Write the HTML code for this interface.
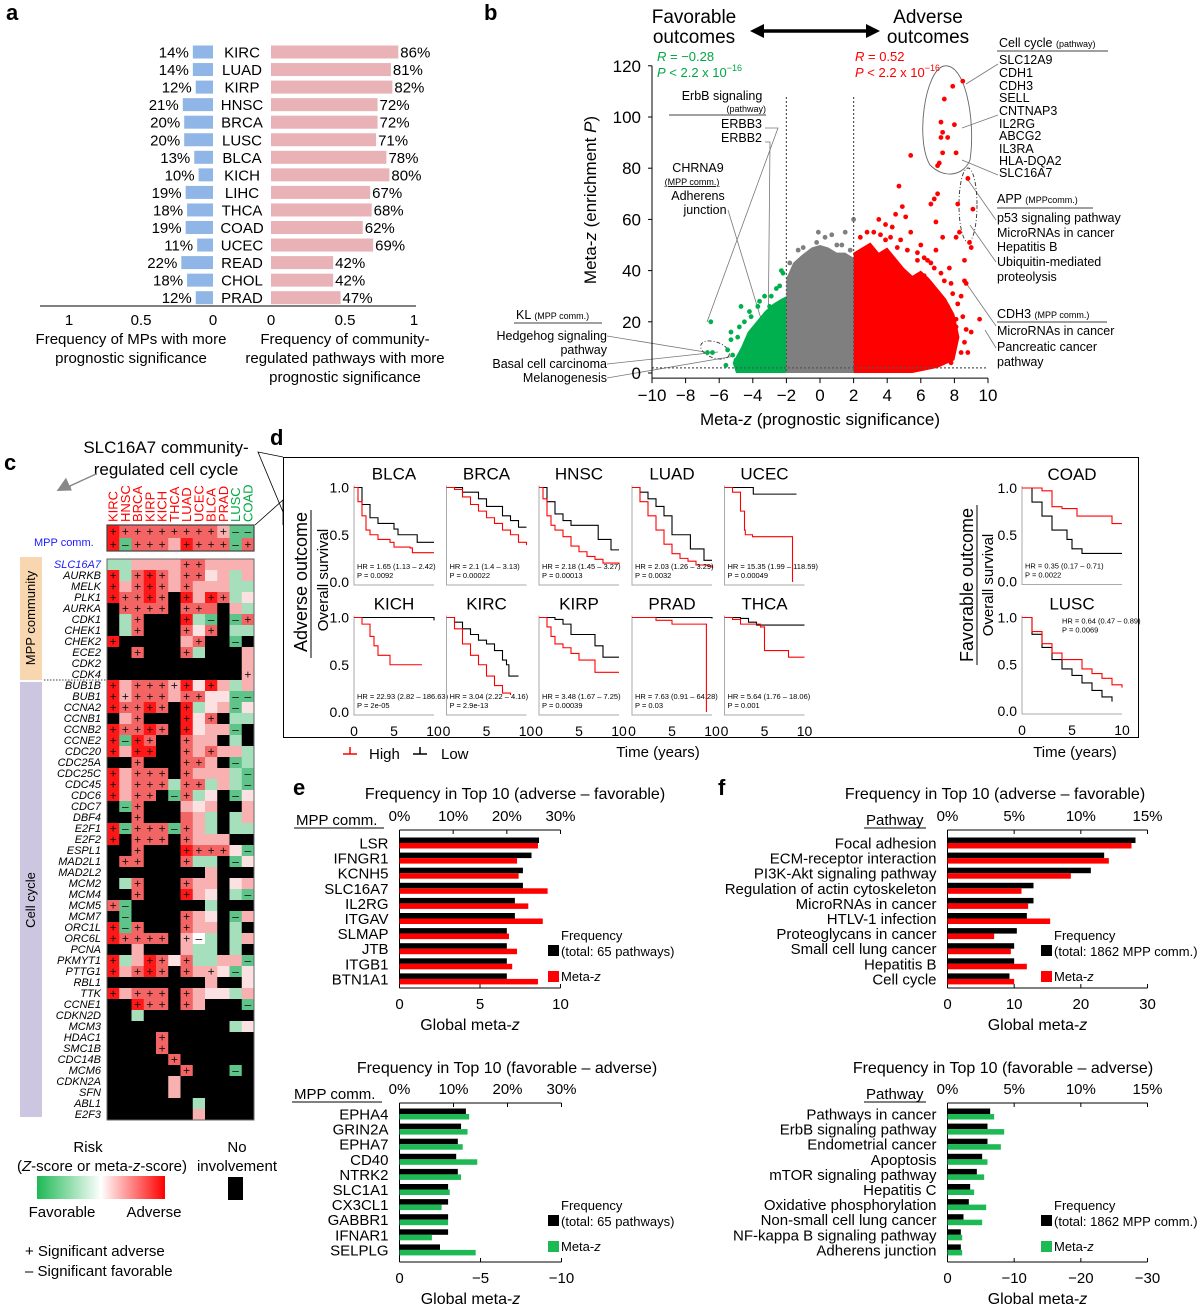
<!DOCTYPE html>
<html><head><meta charset="utf-8">
<style>
html,body{margin:0;padding:0;background:#fff;}
svg{display:block;font-family:"Liberation Sans",Arial,sans-serif;}
.pl{font-weight:bold;font-size:22px;}
</style></head>
<body>
<svg id="fig" width="1200" height="1306" viewBox="0 0 1200 1306">
<text class="pl" x="6" y="20">a</text>
<text class="pl" x="484" y="20">b</text>
<text class="pl" x="4" y="470">c</text>
<text class="pl" x="270" y="445">d</text>
<text class="pl" x="293" y="795">e</text>
<text class="pl" x="718" y="795">f</text>

<g id="pa" font-size="15">
  <line x1="40" y1="306" x2="416" y2="306" stroke="#000" stroke-width="1"/>
  <g text-anchor="middle">
    <text x="69" y="325">1</text><text x="141" y="325">0.5</text><text x="213" y="325">0</text>
    <text x="271" y="325">0</text><text x="345" y="325">0.5</text><text x="414" y="325">1</text>
  </g>
  <g text-anchor="middle">
    <text x="131" y="344">Frequency of MPs with more</text>
    <text x="131" y="363">prognostic significance</text>
  </g>
  <g text-anchor="middle">
    <text x="345" y="344">Frequency of community-</text>
    <text x="345" y="363">regulated pathways with more</text>
    <text x="345" y="382">prognostic significance</text>
  </g>
</g>

<g id="pb">
  <g font-size="19" text-anchor="middle">
    <text x="694" y="23">Favorable</text><text x="694" y="43">outcomes</text>
    <text x="928" y="23">Adverse</text><text x="928" y="43">outcomes</text>
  </g>
  <line x1="760" y1="31" x2="870" y2="31" stroke="#000" stroke-width="3.5"/>
  <polygon points="750,31 764,24 764,38" fill="#000"/>
  <polygon points="880,31 866,24 866,38" fill="#000"/>
  <g font-size="13" fill="#00a843">
    <text x="657" y="61"><tspan font-style="italic">R</tspan> = −0.28</text>
    <text x="657" y="77"><tspan font-style="italic">P</tspan> &lt; 2.2 x 10<tspan font-size="9" dy="-6">−16</tspan></text>
  </g>
  <g font-size="13" fill="#f00">
    <text x="855" y="61"><tspan font-style="italic">R</tspan> = 0.52</text>
    <text x="855" y="77"><tspan font-style="italic">P</tspan> &lt; 2.2 x 10<tspan font-size="9" dy="-6">−16</tspan></text>
  </g>
  <text transform="translate(596,200) rotate(-90)" text-anchor="middle" font-size="17">Meta-<tspan font-style="italic">z</tspan> (enrichment <tspan font-style="italic">P</tspan>)</text>
  <text x="820" y="425" text-anchor="middle" font-size="17">Meta-<tspan font-style="italic">z</tspan> (prognostic significance)</text>
  <g font-size="12.5">
    <text x="999" y="47">Cell cycle <tspan font-size="9">(pathway)</tspan></text>
    <line x1="997" y1="51" x2="1108" y2="51" stroke="#000" stroke-width="0.8"/>
    <text x="999" y="64">SLC12A9</text><text x="999" y="77">CDH1</text><text x="999" y="90">CDH3</text>
    <text x="999" y="102">SELL</text><text x="999" y="115">CNTNAP3</text><text x="999" y="128">IL2RG</text>
    <text x="999" y="140">ABCG2</text><text x="999" y="153">IL3RA</text><text x="999" y="165">HLA-DQA2</text>
    <text x="999" y="177">SLC16A7</text>
  </g>
  <g font-size="12.5">
    <text x="997" y="203">APP <tspan font-size="9">(MPPcomm.)</tspan></text>
    <line x1="997" y1="208" x2="1093" y2="208" stroke="#000" stroke-width="0.8"/>
    <text x="997" y="222">p53 signaling pathway</text><text x="997" y="237">MicroRNAs in cancer</text>
    <text x="997" y="251">Hepatitis B</text><text x="997" y="266">Ubiquitin-mediated</text><text x="997" y="281">proteolysis</text>
  </g>
  <g font-size="12.5">
    <text x="997" y="318">CDH3 <tspan font-size="9">(MPP comm.)</tspan></text>
    <line x1="997" y1="322" x2="1107" y2="322" stroke="#000" stroke-width="0.8"/>
    <text x="997" y="335">MicroRNAs in cancer</text><text x="997" y="351">Pancreatic cancer</text><text x="997" y="366">pathway</text>
  </g>
  <g font-size="12.5">
    <text x="722" y="100" text-anchor="middle">ErbB signaling</text>
    <text x="766" y="112" text-anchor="end" font-size="9">(pathway)</text>
    <line x1="669" y1="115" x2="766" y2="115" stroke="#000" stroke-width="0.8"/>
    <text x="762" y="128" text-anchor="end">ERBB3</text><text x="762" y="142" text-anchor="end">ERBB2</text>
  </g>
  <g font-size="12.5" text-anchor="middle">
    <text x="698" y="172">CHRNA9</text>
    <text x="692" y="185" font-size="9" text-decoration="underline">(MPP comm.)</text>
    <text x="698" y="200">Adherens</text><text x="705" y="214">junction</text>
  </g>
  <g font-size="12.5" text-anchor="end">
    <text x="516" y="319" text-anchor="start">KL <tspan font-size="9">(MPP comm.)</tspan></text>
    <line x1="514" y1="323" x2="602" y2="323" stroke="#000" stroke-width="0.8"/>
    <text x="607" y="340">Hedgehog signaling</text><text x="607" y="354">pathway</text>
    <text x="607" y="368">Basal cell carcinoma</text><text x="607" y="382">Melanogenesis</text>
  </g>
  <g fill="none" stroke="#777" stroke-width="0.8">
    <polyline points="765,128 778,128 707,322"/>
    <polyline points="765,142 770,142 768,350"/>
    <polyline points="728,210 772,355"/>
    <polyline points="607,336 705,352"/>
    <polyline points="607,364 718,352"/>
    <polyline points="607,378 735,356"/>
    <polyline points="998,64 966,84"/>
    <polyline points="998,115 962,128"/>
    <polyline points="998,175 962,160"/>
    <polyline points="996,220 968,180"/>
    <polyline points="996,262 970,225"/>
    <polyline points="996,326 966,283"/>
    <polyline points="996,348 985,330"/>
  </g>
  <path d="M944,66 C965,62 976,120 970,160 C964,175 945,180 930,165 C915,140 925,70 944,66 Z" fill="none" stroke="#666" stroke-width="0.9"/>
  <ellipse cx="968" cy="205" rx="9" ry="37" fill="none" stroke="#333" stroke-width="0.9" stroke-dasharray="4,2,1,2"/>
  <ellipse cx="715" cy="350" rx="15" ry="8" transform="rotate(20 715 350)" fill="none" stroke="#333" stroke-width="0.9" stroke-dasharray="4,2,1,2"/>
</g>

<g id="pc">
  <g font-size="17" text-anchor="middle">
    <text x="166" y="453">SLC16A7 community-</text>
    <text x="166" y="475">regulated cell cycle</text>
  </g>
  <polyline points="70,490 70,486 96,474" fill="none" stroke="#888" stroke-width="1.5"/>
  <polygon points="56,488 70,480 70,494" fill="#888" transform="rotate(-25 63 488)"/>
  <text x="34" y="546" font-size="11" fill="#1a1aff">MPP comm.</text>
  <rect x="20" y="557" width="22" height="123" fill="#f8d6b0"/>
  <rect x="20" y="682" width="22" height="435" fill="#cdc6e0"/>
  <text transform="translate(35,618) rotate(-90)" text-anchor="middle" font-size="13">MPP community</text>
  <text transform="translate(35,900) rotate(-90)" text-anchor="middle" font-size="13">Cell cycle</text>
  <line x1="44" y1="680" x2="107" y2="680" stroke="#000" stroke-width="0.8" stroke-dasharray="1.5,1.5"/>
  <g font-size="15" text-anchor="middle">
    <text x="88" y="1152">Risk</text>
    <text x="102" y="1171">(<tspan font-style="italic">Z</tspan>-score or meta-<tspan font-style="italic">z</tspan>-score)</text>
    <text x="62" y="1217">Favorable</text>
    <text x="154" y="1217">Adverse</text>
    <text x="237" y="1152">No</text>
    <text x="237" y="1171">involvement</text>
  </g>
  <defs><linearGradient id="rg" x1="0" x2="1" y1="0" y2="0">
    <stop offset="0" stop-color="#1db954"/><stop offset="0.5" stop-color="#ffffff"/><stop offset="1" stop-color="#ff0000"/>
  </linearGradient></defs>
  <rect x="37" y="1176" width="128" height="23" fill="url(#rg)"/>
  <rect x="228" y="1177" width="15" height="23" fill="#000"/>
  <g font-size="15">
    <text x="25" y="1256">+ Significant adverse</text>
    <text x="25" y="1276">– Significant favorable</text>
  </g>
</g>

<g id="pd">
  <rect x="283.5" y="457.5" width="855" height="280" fill="none" stroke="#000" stroke-width="1"/>
  <polyline points="283,457 258,452 283,512" fill="none" stroke="#000" stroke-width="0.8"/>
  <polyline points="255,525 283,500 283,525" fill="none" stroke="#000" stroke-width="0.8"/>
  <text transform="translate(307,582) rotate(-90)" text-anchor="middle" font-size="18">Adverse outcome</text>
  <line x1="311" y1="510" x2="311" y2="658" stroke="#000" stroke-width="1"/>
  <text transform="translate(328,580) rotate(-90)" text-anchor="middle" font-size="15">Overall survival</text>
  <text transform="translate(973,585) rotate(-90)" text-anchor="middle" font-size="18">Favorable outcome</text>
  <line x1="977" y1="505" x2="977" y2="665" stroke="#000" stroke-width="1"/>
  <text transform="translate(993,585) rotate(-90)" text-anchor="middle" font-size="15">Overall survival</text>
  <text x="658" y="757" text-anchor="middle" font-size="15">Time (years)</text>
  <text x="1075" y="757" text-anchor="middle" font-size="15">Time (years)</text>
  <g font-size="15">
    <line x1="343" y1="754" x2="357" y2="754" stroke="#f00" stroke-width="1.5"/>
    <line x1="350" y1="747" x2="350" y2="754" stroke="#f00" stroke-width="1.5"/>
    <text x="369" y="759">High</text>
    <line x1="413" y1="754" x2="427" y2="754" stroke="#000" stroke-width="1.5"/>
    <line x1="420" y1="747" x2="420" y2="754" stroke="#000" stroke-width="1.5"/>
    <text x="441" y="759">Low</text>
  </g>
</g>

<g font-size="16" text-anchor="middle">
  <text x="515" y="799">Frequency in Top 10 (adverse – favorable)</text>
  <text x="507" y="1073">Frequency in Top 10 (favorable – adverse)</text>
  <text x="995" y="799">Frequency in Top 10 (adverse – favorable)</text>
  <text x="1003" y="1073">Frequency in Top 10 (favorable – adverse)</text>
</g>
<g font-size="15">
  <text x="296" y="825">MPP comm.</text><line x1="294" y1="828" x2="384" y2="828" stroke="#000" stroke-width="0.9"/>
  <text x="294" y="1099">MPP comm.</text><line x1="292" y1="1102" x2="382" y2="1102" stroke="#000" stroke-width="0.9"/>
  <text x="866" y="825">Pathway</text><line x1="864" y1="828" x2="926" y2="828" stroke="#000" stroke-width="0.9"/>
  <text x="866" y="1099">Pathway</text><line x1="864" y1="1102" x2="926" y2="1102" stroke="#000" stroke-width="0.9"/>
</g>
<g id="dyn"></g>
</svg>

<script>
const aCancers = ["KIRC","LUAD","KIRP","HNSC","BRCA","LUSC","BLCA","KICH","LIHC","THCA","COAD","UCEC","READ","CHOL","PRAD"];
const aMP = [14,14,12,21,20,20,13,10,19,18,19,11,22,18,12];
const aComm = [86,81,82,72,72,71,78,80,67,68,62,69,42,42,47];

const bGreenCloud = [[-2,0],[-5,0],[-5.2,4],[-4.7,10],[-4.3,16],[-3.8,20],[-3.3,24],[-2.8,27],[-2.3,29],[-2,30]];
const bGreyCloud = [[-2,0],[-2,37],[-1.6,43],[-1.1,46],[-0.5,49],[0,50],[0.5,49],[1,47],[1.5,47],[2,45],[2,0]];
const bRedCloud = [[2,0],[2,47],[2.5,49],[3,51],[3.5,47],[4,49],[4.5,45],[5,41],[5.5,38],[6,40],[6.5,37],[7,33],[7.5,29],[8,23],[8.3,14],[8,5],[7,2],[5.5,0]];
const bRedPts = [[8.5,114],[7.9,112],[7.4,107],[7.2,98],[8,97],[7.3,94],[7.6,92],[7.2,92],[7.3,86],[8.1,86],[7.1,82],[7,81],[5.4,85],[8.8,76],[4.7,73],[7,70],[6.8,68],[8.2,66],[6.6,66],[4.9,65],[9.1,64],[4.5,62],[5.1,61],[3.5,60],[3.9,58],[4.3,57],[8.3,55],[6.9,59],[5.4,55],[7.3,53],[8.1,53],[8.9,51],[9,49],[6,50],[6.9,48],[8.6,44],[7.7,41],[8.6,36],[8.7,35],[9.5,21],[8.1,21],[9,16],[7.5,17],[8.1,18],[6.2,45],[5.8,47],[4.8,52],[3.2,55],[6.6,43],[7.2,39],[7.8,35],[8.4,30],[7.6,26],[8.8,8],[7.4,10],[6.8,6],[2.4,53],[2.8,55],[3.6,54],[4.2,53],[5.2,48],[6.4,44],[6.8,41],[7.4,36],[7.9,31],[8.2,27],[8.5,22],[8.7,17],[8.6,12],[8.4,8],[7.8,4],[5.8,44],[4.6,49],[3.9,52],[7.1,29],[6.2,38]];
const bGreenPts = [[-6.5,20],[-6.7,8],[-6.4,8],[-5.2,7],[-5.3,13],[-5.3,16],[-4.8,18],[-4.5,20],[-4.7,26],[-4.2,24],[-3.6,28],[-2.3,40],[-2.2,39],[-3,26],[-5.0,5],[-2.6,33],[-3.3,30],[-4.9,14],[-5.5,9],[-4.1,22],[-3.7,26],[-2.9,30],[-2.4,34],[-5.6,3]];
const bGreyPts = [[-0.1,55],[0.7,54],[1.5,55],[2,60],[-0.2,51],[1.0,50],[-1.3,48],[0.3,53],[-1.8,43],[-1.0,49],[1.3,50],[1.8,48]];
const bXTicks = [-10,-8,-6,-4,-2,0,2,4,6,8,10];
const bYTicks = [0,20,40,60,80,100,120];

const cCols = ["KIRC","HNSC","BRCA","KIRP","KICH","THCA","LUAD","UCEC","BLCA","PRAD","LUSC","COAD"];
const cMPP = ["R+ r+ r+ r+ r+ r+ r+ r+ r+ p+ G- G-","R+ G- r+ r+ r+ p R+ r+ r+ r+ G- r+"];
const cGenes = ["SLC16A7","AURKB","MELK","PLK1","AURKA","CDK1","CHEK1","CHEK2","ECE2","CDK2","CDK4","BUB1B","BUB1","CCNA2","CCNB1","CCNB2","CCNE2","CDC20","CDC25A","CDC25C","CDC45","CDC6","CDC7","DBF4","E2F1","E2F2","ESPL1","MAD2L1","MAD2L2","MCM2","MCM4","MCM5","MCM7","ORC1L","ORC6L","PCNA","PKMYT1","PTTG1","RBL1","TTK","CCNE1","CDKN2D","MCM3","HDAC1","SMC1B","CDC14B","MCM6","CDKN2A","SFN","ABL1","E2F3"];
const cCells = [
"g g p p p p r+ r+ p p p p",
"R+ g r+ R+ r+ p r+ r+ w p g p",
"R+ p r+ R+ r+ p r+ p p p g g",
"R+ r+ r+ R+ r+ k R+ p R+ r+ g w",
"k r+ r+ r+ r+ k r+ r+ r k p g",
"k g r+ k k k R+ g G- k G- r+",
"k g r+ k k k r+ w r+ k g g",
"R+ k k k k k p r+ k k G- k",
"k k r+ k k k r+ g k k k p",
"k k k k k k k k k k k p",
"k k k k k k k k k k k p+",
"R+ p r+ r+ r+ p+ R+ w R+ p g p",
"R+ p+ r+ r+ r+ p r+ r+ w w G- G-",
"R+ r+ r+ R+ r+ k R+ g w p G- w",
"k p r+ k k k R+ w r+ k g g",
"R+ r+ r+ R+ r+ k R+ w p p G- k",
"R+ G- R+ r+ k k r+ p p k g k",
"R+ p R+ R+ k k r+ p r+ p p g",
"k k r+ k k k r+ r+ p k G- g",
"R+ p r+ r+ r+ k r+ p p p g G-",
"R+ p r+ r+ r+ g r+ r+ g p g G-",
"R+ p r+ r+ k G- r+ g w k G- w",
"k G- r+ k k k p w p k k p",
"k k r+ k k k r p g k g p",
"R+ G- r+ r+ r+ G- r+ p g k g g",
"R+ k r+ r+ r+ k r+ p p p k k",
"k k r+ k k k R+ r+ r+ r+ w G-",
"k r+ r+ k k k r+ g g k G- w",
"k k k k k k k k p k k k",
"k g r+ k k k r+ p p k w p",
"k k r+ k k k R+ p w k g G-",
"r+ G- k k k k k k g k k k",
"k G- k k k k r+ p w k G- p",
"R+ G- r+ k k k r+ p p k g k",
"R+ r+ r+ r+ r+ k p+ W- g k g p",
"k k p k k k p g g k g k",
"R+ g p R+ r+ w r+ g g p p G-",
"R+ p r+ R+ r+ k r+ p p+ w G- w",
"k k k k k k k k p k k w",
"R+ p r+ r+ r+ k r+ p w w g p",
"k k R+ r+ r+ k r+ p k k k G-",
"k k g k k k k k k k k k",
"k k k k k k k k k k g w",
"k k k k r+ k k k k k k k",
"k k k k r+ k k k k k k k",
"k k k k k r+ k k k k k k",
"k k k k k k r+ k k k G- k",
"k k k k k p k k k k k k",
"k k k k k p k k k k k k",
"k k k k k k k g k k k k",
"k k k k k k k p k k k k"];

const dNames = ["BLCA","BRCA","HNSC","LUAD","UCEC","KICH","KIRC","KIRP","PRAD","THCA","COAD","LUSC"];
const dHR = ["HR = 1.65 (1.13 – 2.42)","HR = 2.1 (1.4 – 3.13)","HR = 2.18 (1.45 – 3.27)","HR = 2.03 (1.26 – 3.29)","HR = 15.35 (1.99 – 118.59)","HR = 22.93 (2.82 – 186.63)","HR = 3.04 (2.22 – 4.16)","HR = 3.48 (1.67 – 7.25)","HR = 7.63 (0.91 – 64.28)","HR = 5.64 (1.76 – 18.06)","HR = 0.35 (0.17 – 0.71)","HR = 0.64 (0.47 – 0.89)"];
const dP = ["P = 0.0092","P = 0.00022","P = 0.00013","P = 0.0032","P = 0.00049","P = 2e-05","P = 2.9e-13","P = 0.00039","P = 0.03","P = 0.001","P = 0.0022","P = 0.0069"];
const dHigh = [
[[0,1],[0.5,.85],[1,.7],[1.5,.55],[2,.5],[3,.45],[4.5,.42],[5,.37],[7,.36],[7.3,.31],[10,.31]],
[[0,1],[1,.98],[2,.9],[3,.82],[4,.75],[5,.68],[6,.62],[7,.55],[8,.5],[9,.42],[10,.39]],
[[0,1],[0.5,.88],[1,.7],[1.5,.6],[2,.55],[3,.48],[4,.38],[5,.32],[6,.27],[7,.24],[8,.2],[10,.19]],
[[0,1],[1,.85],[2,.7],[3,.55],[4,.4],[5,.3],[6,.25],[7,.22],[8,.18],[9.5,.17],[10,.15]],
[[0,1],[1,.95],[2,.75],[2.5,.55],[2.6,.5],[3.5,.48],[8.5,.48],[8.5,0]],
[[0,1],[1,.93],[2,.8],[2.5,.7],[3,.6],[4.5,.5],[8.5,.5]],
[[0,1],[1,.88],[2,.72],[3,.6],[4,.5],[5,.38],[6,.28],[7,.2],[8,.18]],
[[0,1],[1,.9],[1.5,.8],[2,.72],[3,.68],[4,.62],[5,.55],[7,.42],[10,.42]],
[[0,1],[3,.97],[5,.93],[9.3,.93],[9.3,0]],
[[0,1],[1,.98],[2,.93],[4.5,.9],[5,.65],[8,.58],[10,.58]],
[[0,1],[2,.97],[3,.8],[4,.78],[5.5,.7],[9,.62],[10,.62]],
[[0,1],[1,.85],[2,.72],[3,.62],[4,.55],[6,.45],[7,.4],[8,.35],[9,.28],[10,.25]]];
const dLow = [
[[0,1],[1,.82],[2,.68],[3,.62],[5,.56],[5.5,.5],[7.9,.42],[10,.42]],
[[0,1],[2,.95],[4,.88],[5,.8],[7,.7],[8,.65],[9,.58],[10,.58]],
[[0,1],[1,.85],[2,.72],[3,.65],[4,.6],[7.4,.45],[9,.34],[10,.34]],
[[0,1],[1,.95],[2,.88],[3,.8],[4,.7],[5,.5],[7.3,.35],[9,.23],[10,.23]],
[[0,1],[3.6,.93],[9,.93]],
[[0,1],[10,.97]],
[[0,1],[1,.95],[2,.88],[3,.82],[4,.76],[5,.72],[6,.65],[7,.55],[7.5,.5],[7.8,.38],[9,.38]],
[[0,1],[2,.98],[3,.93],[4,.82],[7,.7],[8,.58],[10,.58]],
[[0,1],[10,.99]],
[[0,1],[2,.99],[3,.95],[4,.92],[10,.92]],
[[0,1],[1,.85],[2,.7],[3,.55],[4.5,.45],[5,.35],[6,.3],[10,.3]],
[[0,1],[1,.82],[2,.68],[3,.55],[4,.45],[5,.38],[6,.3],[7,.22],[8,.15],[9,.1]]];
const dYTicks = ["0.0","0.5","1.0"];
const dXTicks = [0,5,10];

const eTopNames = ["LSR","IFNGR1","KCNH5","SLC16A7","IL2RG","ITGAV","SLMAP","JTB","ITGB1","BTN1A1"];
const eTopFreq = [26,24.6,23,23,21.5,21.5,20,20,20,20];
const eTopZ = [8.6,7.3,7.4,9.2,8.0,8.9,6.8,7.3,7.0,8.6];
const eBotNames = ["EPHA4","GRIN2A","EPHA7","CD40","NTRK2","SLC1A1","CX3CL1","GABBR1","IFNAR1","SELPLG"];
const eBotFreq = [12.3,11.4,10.8,10.5,10.8,9,9,9,9,7.5];
const eBotZ = [-4.3,-4.2,-3.9,-4.8,-3.8,-3.1,-2.6,-3.0,-2.0,-4.7];
const fTopNames = ["Focal adhesion","ECM-receptor interaction","PI3K-Akt signaling pathway","Regulation of actin cytoskeleton","MicroRNAs in cancer","HTLV-1 infection","Proteoglycans in cancer","Small cell lung cancer","Hepatitis B","Cell cycle"];
const fTopFreq = [14.1,11.75,10.75,6.45,6.45,5.95,5.2,5,5,4.65];
const fTopZ = [27.6,24.2,18.5,11.1,12.1,15.4,7,9.5,11.9,10];
const fBotNames = ["Pathways in cancer","ErbB signaling pathway","Endometrial cancer","Apoptosis","mTOR signaling pathway","Hepatitis C","Oxidative phosphorylation","Non-small cell lung cancer","NF-kappa B signaling pathway","Adherens junction"];
const fBotFreq = [3.2,3.0,3.0,2.6,2.2,1.7,1.6,1.2,1.0,1.0];
const fBotZ = [-7,-8.5,-8,-6,-5.5,-4,-5.8,-5.2,-2.2,-2.2];

const NS = "http://www.w3.org/2000/svg";
const root = document.getElementById("dyn");
function el(tag, attrs, parent, txt) {
  const e = document.createElementNS(NS, tag);
  for (const k in attrs) e.setAttribute(k, attrs[k]);
  if (txt !== undefined) e.textContent = txt;
  (parent || root).appendChild(e);
  return e;
}

(function(){
  const g = el("g", {"font-size":"15"});
  
  
  const blueX = v => 213 - v/100*144;
  const pinkW = v => v/100*148;
  aCancers.forEach((c,i) => {
    const y = 52 + i*17.55;
    const b = el("rect", {x: blueX(aMP[i]), y: y-6.5, width: 213-blueX(aMP[i]), height: 13, fill:"#8fb6e6"}, g);
    
    
    const t1 = el("text", {x: blueX(aMP[i])-4, y: y+5.5, "text-anchor":"end"}, g, aMP[i] + "%");
    
    
    const lab = el("text", {x: 242, y: y+5.5, "text-anchor":"middle"}, g, c);
    
    
    const p = el("rect", {x: 271, y: y-6.5, width: pinkW(aComm[i]), height: 13, fill:"#e8b2b6"}, g);
    
    
    const t2 = el("text", {x: 271+pinkW(aComm[i])+2, y: y+5.5}, g, aComm[i] + "%");
    
    
  });
})();

(function(){
  const bx = v => 820 + v*16.8;
  const by = v => 373 - v*2.56;
  const g = el("g", {});
  
  
  const poly = (pts, col, name) => {
    const p = el("polygon", {points: pts.map(q => bx(q[0])+","+by(q[1])).join(" "), fill: col}, g);
    
    
  };
  poly(bGreyCloud, "#7f7f7f", "grey-point-cloud");
  poly(bGreenCloud, "#00b04f", "green-point-cloud");
  poly(bRedCloud, "#ff0000", "red-point-cloud");
  const dots = (arr, col, name) => arr.forEach(q => {
    const c = el("circle", {cx: bx(q[0]), cy: by(q[1]), r: 2.4, fill: col}, g);
    
    
  });
  dots(bGreyPts, "#7f7f7f", "grey-point");
  dots(bGreenPts, "#00b04f", "green-point");
  dots(bRedPts, "#ff0000", "red-point");
  [-2,2].forEach(v => {
    const l = el("line", {x1: bx(v), x2: bx(v), y1: 97, y2: 373, stroke:"#555", "stroke-dasharray":"2,2", "stroke-width":1.2}, g);
    
    
  });
  const hl = el("line", {x1: bx(-10), x2: bx(10), y1: by(2), y2: by(2), stroke:"#555", "stroke-dasharray":"2,2", "stroke-width":1.2}, g);
  
  
  const ax = el("path", {d: `M${bx(-10)},${by(120)} L${bx(-10)},${by(-2)} L${bx(10)},${by(-2)}`, fill:"none", stroke:"#000", "stroke-width":1}, g);
  
  
  bXTicks.forEach(v => {
    el("line", {x1: bx(v), x2: bx(v), y1: by(-2), y2: by(-2)+5, stroke:"#000"}, g);
    const t = el("text", {x: bx(v), y: 401, "text-anchor":"middle", "font-size":"17"}, g, v < 0 ? "−" + Math.abs(v) : String(v));
    
    
  });
  bYTicks.forEach(v => {
    el("line", {x1: bx(-10)-4, x2: bx(-10), y1: by(v), y2: by(v), stroke:"#000"}, g);
    const t = el("text", {x: 641, y: by(v)+6, "text-anchor":"end", "font-size":"17"}, g, String(v));
    
    
  });
})();

(function(){
  const colors = {R:"#ff1616", r:"#f36464", p:"#f8b0b0", w:"#fbe1e1", g:"#a6dfbb", G:"#5ec48a", k:"#000000", W:"#ffffff"};
  const x0 = 107, cw = 12.25, y0 = 559, rh = 11.0;
  const g = el("g", {});
  
  
  const cell = (tok, x, y, h, name) => {
    const r = el("rect", {x: x, y: y, width: cw+0.3, height: h+0.3, fill: colors[tok[0]]}, g);
    
    
    if (tok.length > 1) {
      const t = el("text", {x: x+cw/2, y: y+h/2+4, "text-anchor":"middle", "font-size":"12", fill:"#111"}, g, tok[1]==="+" ? "+" : "–");
      
      
    }
  };
  cCols.forEach((c,j) => {
    const t = el("text", {transform: `translate(${x0+cw*(j+0.5)+4.5},522) rotate(-90)`, "font-size":"13", fill: j>=10 ? "#00a843" : "#f00"}, g, c);
    
    
  });
  cMPP.forEach((row,i) => {
    row.split(" ").forEach((tok,j) => cell(tok, x0+cw*j, 525+i*13, 13, "mpp-cell"));
  });
  const fr = el("rect", {x: x0, y: 525, width: cw*12, height: 26, fill:"none", stroke:"#444", "stroke-width":1.2}, g);
  
  
  cCells.forEach((row,i) => {
    row.split(" ").forEach((tok,j) => cell(tok, x0+cw*j, y0+rh*i, rh, "heatmap-cell"));
    const t = el("text", {x: 101, y: y0+rh*i+9, "text-anchor":"end", "font-size":"11", "font-style":"italic", fill: i===0 ? "#1a1aff" : "#000"}, g, cGenes[i]);
    
    
  });
  const f2 = el("rect", {x: x0, y: y0, width: cw*12, height: rh*cCells.length, fill:"none", stroke:"#666", "stroke-width":1}, g);
  
  
})();

(function(){
  const colX = [354, 446.5, 539, 632, 724.5];
  const rowTop = [487.5, 617.5];
  const H = 94.5, W = 80;
  dNames.forEach((name,k) => {
    let px, pt, w = W, h = H;
    if (k < 10) { px = colX[k%5]; pt = rowTop[Math.floor(k/5)]; }
    else { px = 1022; pt = k===10 ? 488 : 617.5; w = 100; h = 93.5; }
    const sx = t => px + t/10*w;
    const sy = s => pt + (1-s)*h;
    const g = el("g", {});
    
    
    const tt = el("text", {x: px+w/2, y: pt-8, "text-anchor":"middle", "font-size":"17"}, g, name);
    
    
    el("path", {d:`M${px},${pt-2} L${px},${pt+h+3} L${px+w},${pt+h+3}`, fill:"none", stroke:"#aaa", "stroke-width":1}, g);
    const step = pts => {
      let d = `M${sx(pts[0][0])},${sy(pts[0][1])}`;
      for (let i=1;i<pts.length;i++) d += ` H${sx(pts[i][0])} V${sy(pts[i][1])}`;
      return d;
    };
    const lo = el("path", {d: step(dLow[k]), fill:"none", stroke:"#000", "stroke-width":1.1}, g);
    
    
    const hi = el("path", {d: step(dHigh[k]), fill:"none", stroke:"#f00", "stroke-width":1.1}, g);
    
    
    const hy = k === 11 ? pt+6 : pt+h-13;
    const hx = k === 11 ? px+40 : px+3;
    const h1 = el("text", {x: hx, y: hy, "font-size":"7.5"}, g, dHR[k]);
    
    
    const h2 = el("text", {x: hx, y: hy+9, "font-size":"7.5"}, g, dP[k]);
    
    
    if (k%5===0 || k>=10) {
      dYTicks.forEach((lab,i) => {
        const t = el("text", {x: px-5, y: sy(i*0.5)+5, "text-anchor":"end", "font-size":"14"}, g, lab);
        
        
      });
    }
    if ((k>=5 && k<10) || k===11) {
      dXTicks.forEach(v => {
        const t = el("text", {x: sx(v), y: pt+h+24, "text-anchor":"middle", "font-size":"14"}, g, String(v));
        
        
      });
    }
  });
})();

function barChart(opt) {
  const g = el("g", {});
  
  
  const fx = v => opt.x0 + v/opt.fMax*opt.w;
  const zx = v => opt.x0 + v/opt.zMax*opt.w;
  el("line", {x1: opt.x0, x2: opt.x0+opt.w, y1: opt.yTop, y2: opt.yTop, stroke:"#000"}, g);
  el("line", {x1: opt.x0, x2: opt.x0+opt.w, y1: opt.yBot, y2: opt.yBot, stroke:"#000"}, g);
  el("line", {x1: opt.x0, x2: opt.x0, y1: opt.yTop, y2: opt.yBot, stroke:"#000"}, g);
  opt.fTicks.forEach(v => {
    el("line", {x1: fx(v), x2: fx(v), y1: opt.yTop, y2: opt.yTop+4, stroke:"#000"}, g);
    const t = el("text", {x: fx(v), y: opt.yTop-9, "text-anchor":"middle", "font-size":"15"}, g, v + "%");
    
    
  });
  opt.zTicks.forEach(v => {
    el("line", {x1: zx(v), x2: zx(v), y1: opt.yBot, y2: opt.yBot-4, stroke:"#000"}, g);
    const t = el("text", {x: zx(v), y: opt.yBot+21, "text-anchor":"middle", "font-size":"15"}, g, v < 0 ? "−" + Math.abs(v) : String(v));
    
    
  });
  const xt = el("text", {x: opt.x0+opt.w/2 - 10, y: opt.yBot+42, "text-anchor":"middle", "font-size":"16"}, g, "Global meta-");
  el("tspan", {"font-style":"italic"}, xt, "z");
  
  
  opt.names.forEach((n,i) => {
    const yc = opt.y1 + i*15.1;
    const lab = el("text", {x: opt.x0-11, y: yc+5.5, "text-anchor":"end", "font-size":"15"}, g, n);
    
    
    const b1 = el("rect", {x: opt.x0, y: yc-5.5, width: fx(opt.freq[i])-opt.x0, height: 5.5, fill:"#000"}, g);
    
    
    const b2 = el("rect", {x: opt.x0, y: yc, width: zx(opt.z[i])-opt.x0, height: 5.5, fill: opt.col}, g);
    
    
  });
  const lx = opt.legX, ly = opt.legY;
  const s1 = el("rect", {x: lx, y: ly+5, width: 11, height: 11, fill:"#000"}, g);
  
  
  const t1 = el("text", {x: lx+13, y: ly, "font-size":"13"}, g, "Frequency");
  
  
  el("text", {x: lx+13, y: ly+16, "font-size":"13"}, g, opt.total);
  const s2 = el("rect", {x: lx, y: ly+31, width: 11, height: 11, fill: opt.col}, g);
  
  
  const t2 = el("text", {x: lx+13, y: ly+41, "font-size":"13"}, g, "Meta-");
  el("tspan", {"font-style":"italic"}, t2, "z");
  
  
}
barChart({name:"e-top-chart", x0:399.5, w:161, yTop:830, yBot:988, y1:843, fMax:30, zMax:10, fTicks:[0,10,20,30], zTicks:[0,5,10], names:eTopNames, freq:eTopFreq, z:eTopZ, col:"#ff0000", legX:548, legY:940, total:"(total: 65 pathways)"});
barChart({name:"e-bottom-chart", x0:399.5, w:162, yTop:1103, yBot:1262, y1:1114, fMax:30, zMax:-10, fTicks:[0,10,20,30], zTicks:[0,-5,-10], names:eBotNames, freq:eBotFreq, z:eBotZ, col:"#1db954", legX:548, legY:1210, total:"(total: 65 pathways)"});
barChart({name:"f-top-chart", x0:947.5, w:200, yTop:830, yBot:988, y1:843, fMax:15, zMax:30, fTicks:[0,5,10,15], zTicks:[0,10,20,30], names:fTopNames, freq:fTopFreq, z:fTopZ, col:"#ff0000", legX:1041, legY:940, total:"(total: 1862 MPP comm.)"});
barChart({name:"f-bottom-chart", x0:947.5, w:200, yTop:1103, yBot:1262, y1:1114, fMax:15, zMax:-30, fTicks:[0,5,10,15], zTicks:[0,-10,-20,-30], names:fBotNames, freq:fBotFreq, z:fBotZ, col:"#1db954", legX:1041, legY:1210, total:"(total: 1862 MPP comm.)"});
</script>
</body></html>
